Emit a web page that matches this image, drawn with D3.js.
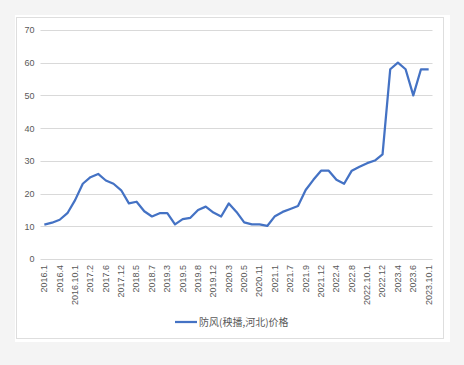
<!DOCTYPE html>
<html>
<head>
<meta charset="utf-8">
<script src="https://cdn.jsdelivr.net/npm/d3@7"></script>
<style>
  body { margin: 0; background: #f4f4f4; }
  svg { display: block; }
</style>
</head>
<body>
<div id="chart"></div>
<script>
// Data: one value per month-ish category; only every other category is labelled
var seriesName = "防风(秧播,河北)价格";
var prices = [10.5, 11.1, 12, 14, 18, 23, 25, 26, 24, 23,
              21, 17, 17.5, 14.6, 13, 14, 14, 10.6, 12.2, 12.6,
              15, 16, 14.2, 13, 17, 14.4, 11.2, 10.6, 10.6, 10.1,
              13.1, 14.4, 15.3, 16.2, 21.1, 24.2, 27, 27, 24.2, 23,
              27, 28.2, 29.3, 30.1, 32, 58, 60, 58, 50, 58, 58];
var tickLabels = ["2016.1", "2016.4", "2016.10.1", "2017.2", "2017.6", "2017.12",
                  "2018.5", "2018.7", "2019.3", "2019.5", "2019.8", "2019.12",
                  "2020.3", "2020.5", "2020.11", "2021.1", "2021.7", "2021.9",
                  "2021.12", "2022.4", "2022.8", "2022.10.1", "2022.12", "2023.4",
                  "2023.6", "2023.10.1"];
var yTicks = [0, 10, 20, 30, 40, 50, 60, 70];

var W = 464, H = 365;
var plot = {left: 40.5, right: 432.5, top: 30, bottom: 259};
var fontNum = "'Liberation Sans', Arial, sans-serif";

var svg = d3.select("#chart").append("svg")
    .attr("width", W)
    .attr("height", H);

// chart panel
svg.append("rect")
    .attr("x", 15).attr("y", 15)
    .attr("width", 435).attr("height", 327)
    .attr("fill", "#fff");
svg.append("rect")
    .attr("x", 16.5).attr("y", 17.5)
    .attr("width", 427).attr("height", 321)
    .attr("fill", "#fff")
    .attr("stroke", "#dedede");

var x = d3.scaleBand()
    .domain(d3.range(prices.length))
    .range([plot.left, plot.right]);

var y = d3.scaleLinear()
    .domain([0, 70])
    .range([plot.bottom, plot.top]);

// gridlines
svg.append("g")
    .selectAll("line")
    .data(yTicks)
    .enter().append("line")
    .attr("x1", plot.left).attr("x2", plot.right)
    .attr("y1", function(d) { return Math.round(y(d)) + 0.5; })
    .attr("y2", function(d) { return Math.round(y(d)) + 0.5; })
    .attr("stroke", "#d9d9d9")
    .attr("stroke-width", 1);

// y axis labels
var yAxis = svg.append("g")
    .attr("transform", "translate(" + (plot.left - 6) + ",0)")
    .call(d3.axisLeft(y).tickValues(yTicks).tickSize(0).tickPadding(0));
yAxis.select(".domain").remove();
yAxis.selectAll("text")
    .attr("fill", "#595959")
    .style("font-family", fontNum)
    .style("font-size", "9px");

// x axis labels (every other category)
var xAxis = svg.append("g")
    .attr("transform", "translate(0," + plot.bottom + ")")
    .call(d3.axisBottom(x)
        .tickValues(d3.range(0, prices.length, 2))
        .tickFormat(function(i) { return tickLabels[i / 2]; })
        .tickSize(0));
xAxis.select(".domain").remove();
xAxis.selectAll("text")
    .attr("transform", "rotate(-90)")
    .attr("x", -6)
    .attr("y", 0)
    .attr("dy", "0.32em")
    .style("text-anchor", "end")
    .attr("fill", "#595959")
    .style("font-family", fontNum)
    .style("font-size", "9px");

// the line
var line = d3.line()
    .x(function(d, i) { return x(i) + x.bandwidth() / 2; })
    .y(function(d) { return y(d); });

svg.append("path")
    .datum(prices)
    .attr("d", line)
    .attr("fill", "none")
    .attr("stroke", "#4472c4")
    .attr("stroke-width", 2.25)
    .attr("stroke-linejoin", "round");

// legend
var legend = svg.append("g")
    .attr("transform", "translate(175,322)");
legend.append("line")
    .attr("x1", 0).attr("x2", 22)
    .attr("y1", 0).attr("y2", 0)
    .attr("stroke", "#4472c4")
    .attr("stroke-width", 2.25);
legend.append("text")
    .attr("x", 24)
    .attr("y", 0)
    .attr("dy", "0.35em")
    .attr("fill", "#595959")
    .style("font-family", "'Noto Sans CJK SC', sans-serif")
    .style("font-size", "10px")
    .text(seriesName);
</script>
</body>
</html>
